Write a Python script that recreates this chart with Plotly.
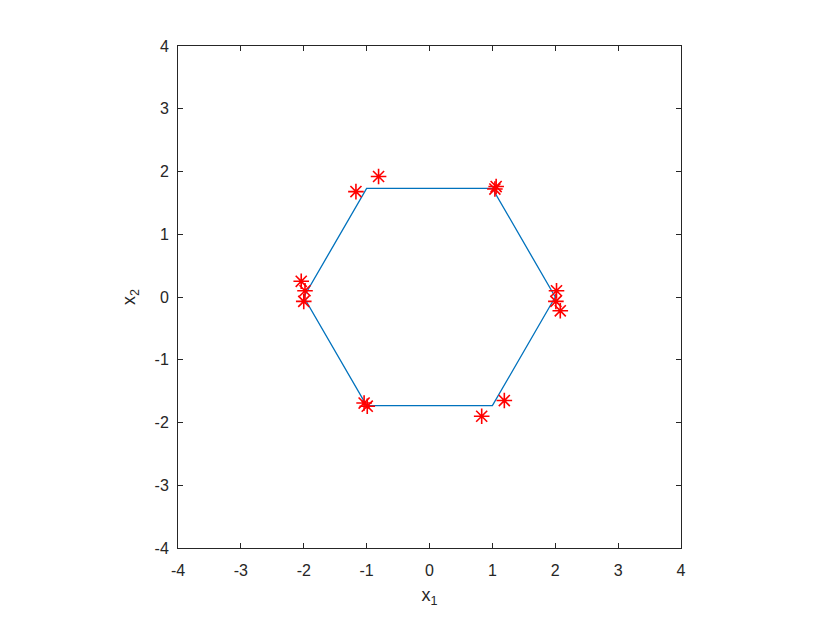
"""Hexagone et points mesurés"""
import plotly.graph_objects as go

# sommets de l'hexagone (fermé)
hex_x = [2, 1, -1, -2, -1, 1, 2]
hex_y = [0, 1.732, 1.732, 0, -1.732, -1.732, 0]

# points mesurés (étoiles rouges)
pts_x = [-0.81, -1.17, 1.04, 1.06, -2.04, -1.98, -2.0, 2.02, 2.01, 2.08, -1.04, -0.99, 0.83, 1.19]
pts_y = [1.92, 1.68, 1.72, 1.76, 0.25, 0.10, -0.07, 0.10, -0.07, -0.22, -1.69, -1.74, -1.90, -1.65]

ticks = [-4, -3, -2, -1, 0, 1, 2, 3, 4]
tick_labels = ["-4", "-3", "-2", "-1", "0", "1", "2", "3", "4"]

axcol = "#262626"
font = dict(family="Liberation Sans, Arial, sans-serif", size=16, color=axcol)

fig = go.Figure()
fig.add_trace(go.Scatter(x=hex_x, y=hex_y, mode="lines",
                         line=dict(color="#0072BD", width=1.3)))
fig.add_trace(go.Scatter(x=pts_x, y=pts_y, mode="markers",
                         marker=dict(symbol="asterisk-open", size=13, color="#FF0000",
                                     line=dict(color="#FF0000", width=1.6))))

axis = dict(range=[-4, 4], tickvals=ticks, ticktext=tick_labels, ticks="inside",
            ticklen=5, tickcolor=axcol, tickwidth=1, showline=True,
            linecolor=axcol, linewidth=1, mirror="allticks", showgrid=False,
            zeroline=False, tickfont=font,
            title_font=dict(family=font["family"], size=18, color=axcol))

fig.update_layout(
    width=830, height=623,
    margin=dict(l=170, r=157, t=38, b=83),
    plot_bgcolor="white", paper_bgcolor="white",
    showlegend=False,
    font=font,
)
fig.update_xaxes(axis, title_text="x<sub>1</sub>", title_standoff=10,
                 ticklabelstandoff=8)
fig.update_yaxes(axis, title_text="x<sub>2</sub>", title_standoff=14,
                 ticklabelstandoff=5)

fig.write_html("out.html")
